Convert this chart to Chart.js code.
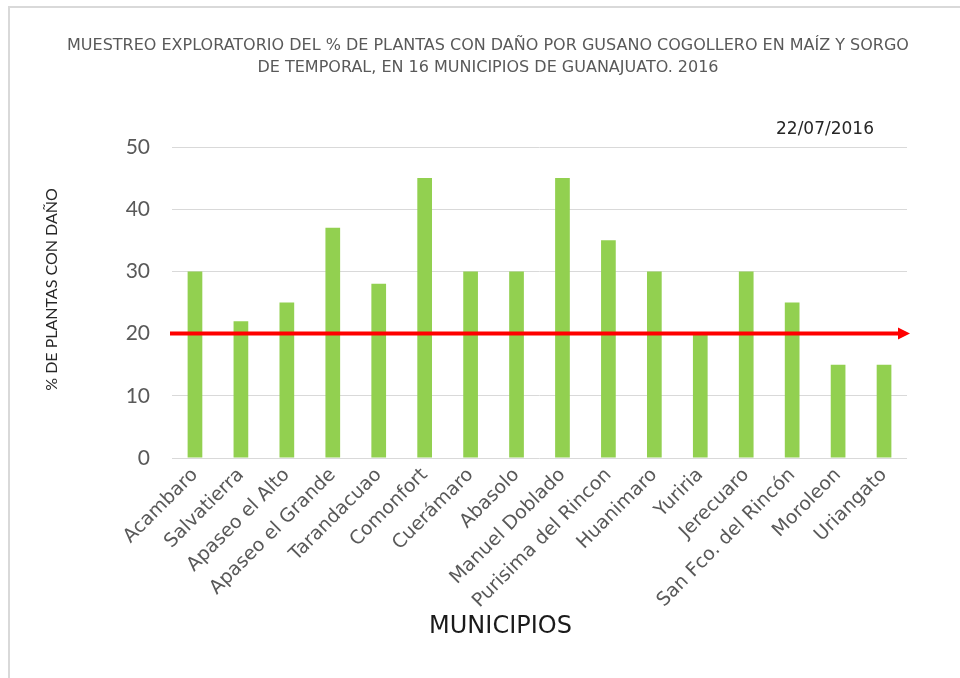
<!DOCTYPE html>
<html>
<head>
<meta charset="utf-8">
<script src="https://cdn.jsdelivr.net/npm/chart.js@4/dist/chart.umd.min.js"></script>
<style>
  html, body { margin: 0; padding: 0; background: #fff; }
  #wrap { position: relative; width: 960px; height: 678px; overflow: hidden; }
  #frame { position: absolute; left: 8px; top: 6px; width: 960px; height: 700px;
           border-left: 2px solid #d9d9d9; border-top: 2px solid #d9d9d9; box-sizing: border-box; }
  canvas { position: absolute; left: 0; top: 0; }
</style>
</head>
<body>
<div id="wrap">
  <div id="frame"></div>
  <canvas id="c" width="960" height="678"></canvas>
</div>
<script>
const categories = ["Acambaro", "Salvatierra", "Apaseo el Alto", "Apaseo el Grande", "Tarandacuao",
  "Comonfort", "Cuerámaro", "Abasolo", "Manuel Doblado", "Purisima del Rincon", "Huanimaro",
  "Yuriria", "Jerecuaro", "San Fco. del Rincón", "Moroleon", "Uriangato"];
const damagePct = [30, 22, 25, 37, 28, 45, 30, 30, 45, 35, 30, 20, 30, 25, 15, 15];
const thresholdValue = 20;
const yTicks = [0, 10, 20, 30, 40, 50];
const titleLines = ["MUESTREO EXPLORATORIO DEL % DE PLANTAS CON DAÑO POR GUSANO COGOLLERO EN MAÍZ Y SORGO",
  "DE TEMPORAL, EN 16 MUNICIPIOS DE GUANAJUATO. 2016"];
const dateLabel = "22/07/2016";
const xAxisTitle = "MUNICIPIOS";
const yAxisTitle = "% DE PLANTAS CON DAÑO";

const LABEL_FONT = "'DejaVu Sans', sans-serif";
const NUM_FONT = "Lato, 'Open Sans', sans-serif";

const overlay = {
  id: 'overlay',
  afterDatasetsDraw(chart) {
    const ctx = chart.ctx;
    const y = chart.scales.y.getPixelForValue(thresholdValue);
    const left = chart.chartArea.left;
    const tip = chart.chartArea.right + 3;
    const headLen = 12, headHalf = 6;
    ctx.save();
    ctx.strokeStyle = '#ff0000';
    ctx.fillStyle = '#ff0000';
    ctx.lineWidth = 4;
    ctx.beginPath();
    ctx.moveTo(left - 2, y);
    ctx.lineTo(tip - headLen + 1, y);
    ctx.stroke();
    ctx.beginPath();
    ctx.moveTo(tip, y);
    ctx.lineTo(tip - headLen, y - headHalf);
    ctx.lineTo(tip - headLen, y + headHalf);
    ctx.closePath();
    ctx.fill();
    ctx.restore();
  },
  afterDraw(chart) {
    const ctx = chart.ctx;
    const a = chart.chartArea;
    ctx.save();
    ctx.textAlign = 'center';
    ctx.textBaseline = 'middle';
    // main title
    ctx.fillStyle = '#595959';
    ctx.font = "16px " + LABEL_FONT;
    const tx = chart.width / 2 + 8;
    titleLines.forEach((line, i) => ctx.fillText(line, tx, 46 + i * 22));
    // date label
    ctx.fillStyle = '#262626';
    ctx.font = "17px " + LABEL_FONT;
    ctx.fillText(dateLabel, a.right - 82, a.top - 17);
    // x axis title
    ctx.fillStyle = '#1a1a1a';
    ctx.font = "24px " + LABEL_FONT;
    ctx.fillText(xAxisTitle, (a.left + a.right) / 2 - 39, 627);
    // y axis title
    ctx.fillStyle = '#262626';
    ctx.font = "16px " + NUM_FONT;
    ctx.translate(52, (a.top + a.bottom) / 2 - 13);
    ctx.rotate(-Math.PI / 2);
    ctx.fillText(yAxisTitle, 0, 0);
    ctx.restore();
  }
};

new Chart(document.getElementById('c'), {
  type: 'bar',
  data: {
    labels: categories,
    datasets: [{
      label: yAxisTitle,
      data: damagePct,
      backgroundColor: '#92d050',
      borderWidth: 0,
      categoryPercentage: 1.0,
      barPercentage: 0.32
    }]
  },
  options: {
    responsive: false,
    animation: false,
    devicePixelRatio: 1,
    layout: { padding: { left: 16, right: 53, top: 147, bottom: 0 } },
    plugins: {
      legend: { display: false },
      tooltip: { enabled: false },
      title: { display: false }
    },
    scales: {
      x: {
        grid: { display: false, drawTicks: false },
        border: { display: false },
        ticks: {
          color: '#595959',
          font: { family: LABEL_FONT, size: 19 },
          minRotation: 45, maxRotation: 45,
          autoSkip: false,
          padding: 6
        },
        afterFit(scale) { scale.height = 678 - 458; }
      },
      y: {
        min: 0, max: 50,
        afterBuildTicks(scale) { scale.ticks = yTicks.map(v => ({ value: v })); },
        grid: { color: '#d9d9d9', lineWidth: 1, drawTicks: false },
        border: { display: false },
        ticks: {
          color: '#595959',
          font: { family: NUM_FONT, size: 21 },
          padding: 22
        },
        title: { display: false, text: yAxisTitle },
        afterFit(scale) { scale.width = 172 - 16; }
      }
    }
  },
  plugins: [overlay]
});
</script>
</body>
</html>
